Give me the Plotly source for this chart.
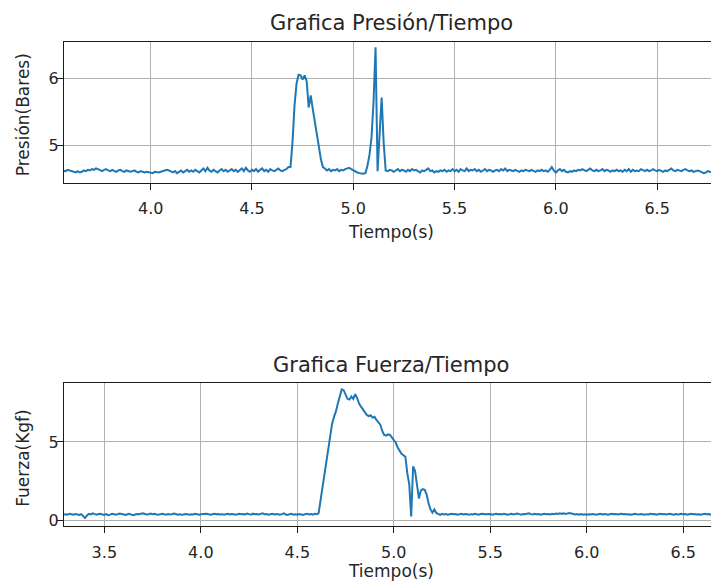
import numpy as np
import plotly.graph_objects as go

# ---- measured data (sampled every 10 ms) ----
presion_t0 = 3.56
presion_dt = 0.01
presion_bares = [
    4.63, 4.63, 4.62, 4.64,
    4.63, 4.62, 4.61, 4.60, 4.62, 4.60, 4.61, 4.63, 4.62, 4.64,
    4.63, 4.65, 4.64, 4.66, 4.65, 4.63, 4.62, 4.64, 4.65, 4.63,
    4.62, 4.64, 4.63, 4.61, 4.63, 4.64, 4.62, 4.61, 4.63, 4.62,
    4.61, 4.62, 4.63, 4.61, 4.60, 4.62, 4.61, 4.60, 4.61, 4.60,
    4.60, 4.59, 4.61, 4.60, 4.60, 4.61, 4.62, 4.63, 4.64, 4.63,
    4.62, 4.60, 4.62, 4.59, 4.61, 4.63, 4.60, 4.62, 4.64, 4.61,
    4.63, 4.61, 4.64, 4.62, 4.60, 4.63, 4.66, 4.62, 4.67, 4.63,
    4.61, 4.64, 4.62, 4.60, 4.63, 4.65, 4.62, 4.64, 4.61, 4.63,
    4.65, 4.62, 4.64, 4.61, 4.63, 4.66, 4.62, 4.67, 4.63, 4.61,
    4.64, 4.62, 4.65, 4.61, 4.64, 4.66, 4.62, 4.64, 4.61, 4.65,
    4.63, 4.62, 4.64, 4.66, 4.63, 4.62, 4.64, 4.65, 4.68, 4.68,
    5.05, 5.60, 5.93, 6.06, 6.05, 5.99, 6.05, 5.96, 5.57, 5.75,
    5.55, 5.38, 5.18, 4.99, 4.80, 4.68, 4.66, 4.63, 4.65, 4.62,
    4.64, 4.63, 4.65, 4.62, 4.64, 4.63, 4.65, 4.66, 4.67, 4.65,
    4.63, 4.62, 4.60, 4.59, 4.58, 4.58, 4.59, 4.70, 4.86, 5.12,
    5.65, 6.47, 4.62, 5.20, 5.72, 5.05, 4.63, 4.62, 4.64, 4.63,
    4.61, 4.63, 4.65, 4.62, 4.64, 4.63, 4.61, 4.64, 4.62, 4.65,
    4.63, 4.64, 4.62, 4.60, 4.63, 4.62, 4.64, 4.66, 4.62, 4.63,
    4.60, 4.62, 4.61, 4.63, 4.62, 4.64, 4.61, 4.63, 4.62, 4.65,
    4.62, 4.64, 4.61, 4.65, 4.63, 4.62, 4.66, 4.62, 4.64, 4.63,
    4.65, 4.62, 4.64, 4.61, 4.63, 4.65, 4.62, 4.64, 4.63, 4.61,
    4.63, 4.64, 4.62, 4.65, 4.63, 4.66, 4.62, 4.64, 4.63, 4.62,
    4.64, 4.62, 4.61, 4.63, 4.62, 4.64, 4.63, 4.62, 4.64, 4.63,
    4.61, 4.63, 4.62, 4.64, 4.62, 4.63, 4.61, 4.64, 4.68, 4.63,
    4.60, 4.63, 4.65, 4.62, 4.64, 4.61, 4.60, 4.62, 4.61, 4.63,
    4.62, 4.64, 4.63, 4.65, 4.63, 4.62, 4.64, 4.66, 4.63, 4.62,
    4.64, 4.62, 4.63, 4.65, 4.62, 4.64, 4.63, 4.61, 4.63, 4.62,
    4.64, 4.62, 4.63, 4.61, 4.64, 4.62, 4.65, 4.61, 4.64, 4.62,
    4.63, 4.62, 4.65, 4.63, 4.62, 4.64, 4.62, 4.63, 4.65, 4.63,
    4.62, 4.64, 4.63, 4.61, 4.63, 4.62, 4.64, 4.66, 4.63, 4.62,
    4.64, 4.63, 4.62, 4.64, 4.65, 4.63, 4.62, 4.63, 4.61, 4.62,
    4.63, 4.62, 4.60, 4.59, 4.60, 4.62, 4.61, 4.60, 4.59, 4.60, 4.61,
]

fuerza_t0 = 3.29
fuerza_dt = 0.01
fuerza_kgf = [
    0.38,
    0.40, 0.37, 0.42, 0.39, 0.36, 0.41, 0.38, 0.35, 0.40, 0.30,
    0.15, 0.32, 0.42, 0.38, 0.45, 0.40, 0.36, 0.41, 0.43, 0.38,
    0.35, 0.40, 0.33, 0.37, 0.42, 0.39, 0.36, 0.40, 0.44, 0.41,
    0.38, 0.35, 0.39, 0.42, 0.37, 0.34, 0.38, 0.41, 0.39, 0.43,
    0.46, 0.41, 0.38, 0.40, 0.44, 0.39, 0.42, 0.38, 0.36, 0.40,
    0.43, 0.39, 0.37, 0.41, 0.38, 0.40, 0.44, 0.41, 0.37, 0.39,
    0.36, 0.38, 0.41, 0.39, 0.37, 0.40, 0.38, 0.42, 0.39, 0.37,
    0.40, 0.41, 0.38, 0.42, 0.39, 0.37, 0.40, 0.43, 0.39, 0.41,
    0.38, 0.40, 0.36, 0.39, 0.42, 0.38, 0.41, 0.39, 0.37, 0.40,
    0.42, 0.39, 0.41, 0.38, 0.44, 0.40, 0.37, 0.43, 0.39, 0.41,
    0.38, 0.42, 0.46, 0.39, 0.41, 0.37, 0.40, 0.43, 0.38, 0.41,
    0.39, 0.36, 0.40, 0.45, 0.38, 0.35, 0.40, 0.42, 0.37, 0.39,
    0.36, 0.41, 0.38, 0.35, 0.40, 0.43, 0.38, 0.41, 0.37, 0.42,
    0.40, 0.45, 1.25, 2.05, 2.95, 3.80, 4.70, 5.50, 6.15, 6.60,
    6.95, 7.45, 7.95, 8.35, 8.30, 8.05, 7.75, 7.70, 7.90, 7.75,
    8.05, 7.80, 7.45, 7.25, 7.05, 6.85, 6.72, 6.65, 6.70, 6.55,
    6.60, 6.40, 6.25, 6.10, 5.70, 5.45, 5.40, 5.48, 5.45, 5.30,
    5.10, 4.95, 4.65, 4.40, 4.25, 4.15, 4.05, 3.00, 2.30, 0.25,
    3.45, 3.15, 2.20, 1.40, 1.90, 2.00, 1.95, 1.65, 1.10, 0.70,
    0.50, 0.70, 0.48, 0.40, 0.36, 0.42, 0.38, 0.41, 0.37, 0.40,
    0.43, 0.39, 0.41, 0.37, 0.40, 0.42, 0.38, 0.41, 0.39, 0.36,
    0.40, 0.38, 0.42, 0.39, 0.37, 0.41, 0.43, 0.39, 0.40, 0.38,
    0.41, 0.37, 0.40, 0.43, 0.39, 0.41, 0.38, 0.42, 0.40, 0.37,
    0.39, 0.42, 0.38, 0.41, 0.44, 0.40, 0.37, 0.41, 0.39, 0.42,
    0.45, 0.40, 0.38, 0.42, 0.39, 0.41, 0.37, 0.40, 0.43, 0.39,
    0.41, 0.38, 0.42, 0.40, 0.44, 0.41, 0.46, 0.42, 0.45, 0.41,
    0.43, 0.47, 0.44, 0.40, 0.38, 0.41, 0.37, 0.40, 0.36, 0.39,
    0.37, 0.40, 0.38, 0.41, 0.39, 0.36, 0.40, 0.42, 0.38, 0.41,
    0.39, 0.37, 0.40, 0.43, 0.39, 0.41, 0.38, 0.40, 0.42, 0.39,
    0.41, 0.38, 0.40, 0.37, 0.41, 0.43, 0.40, 0.38, 0.41, 0.39,
    0.36, 0.40, 0.38, 0.42, 0.39, 0.41, 0.37, 0.40, 0.43, 0.39,
    0.41, 0.38, 0.40, 0.42, 0.39, 0.37, 0.41, 0.38, 0.40, 0.42,
    0.39, 0.41, 0.37, 0.40, 0.43, 0.39, 0.41, 0.38, 0.40, 0.37,
    0.40, 0.42, 0.39, 0.41, 0.38, 0.33, 0.28, 0.30, 0.35,
]

titulos = ["Grafica Presión/Tiempo", "Grafica Fuerza/Tiempo"]
etiqueta_x = "Tiempo(s)"
etiquetas_y = ["Presión(Bares)", "Fuerza(Kgf)"]

t_presion = np.round(presion_t0 + presion_dt * np.arange(len(presion_bares)), 3)
t_fuerza = np.round(fuerza_t0 + fuerza_dt * np.arange(len(fuerza_kgf)), 3)

# ---- layout geometry (pixels) ----
W, H = 711, 588
LEFT = 64
FONT = "DejaVu Sans"
TXT = "#262626"
BLUE = "#1f77b4"


def ydom(top_px, bottom_px):
    return [1 - bottom_px / H, 1 - top_px / H]


def px_x(p):
    return (p - LEFT) / (W - LEFT)


def px_y(p):
    return 1 - p / H


fig = go.Figure()
fig.add_trace(go.Scatter(x=t_presion, y=presion_bares, mode="lines",
                         line=dict(color=BLUE, width=2), xaxis="x", yaxis="y",
                         showlegend=False))
fig.add_trace(go.Scatter(x=t_fuerza, y=fuerza_kgf, mode="lines",
                         line=dict(color=BLUE, width=2), xaxis="x2", yaxis="y2",
                         showlegend=False))

tick_font = dict(family=FONT, size=16, color=TXT)
common_x = dict(showgrid=True, gridcolor="#b0b0b0", gridwidth=1,
                showline=True, linecolor="#1a1a1a", linewidth=1.2, mirror=True,
                ticks="outside", ticklen=6, tickwidth=1, tickcolor="#1a1a1a",
                tickfont=tick_font, zeroline=False, dtick=0.5, tickformat=".1f",
                ticklabelstandoff=5)
common_y = dict(showgrid=True, gridcolor="#b0b0b0", gridwidth=1,
                showline=True, linecolor="#1a1a1a", linewidth=1.2, mirror=False,
                ticks="outside", ticklen=6, tickwidth=1, tickcolor="#1a1a1a",
                tickfont=tick_font, zeroline=False, ticklabelstandoff=-5)

fig.update_layout(
    width=W, height=H,
    margin=dict(l=LEFT, r=0, t=0, b=0),
    paper_bgcolor="white", plot_bgcolor="white",
    font=dict(family=FONT, color=TXT),
    xaxis=dict(common_x, domain=[0, 1], range=[3.572, 6.766], anchor="y"),
    yaxis=dict(common_y, domain=ydom(42.3, 184.3), range=[4.442, 6.549],
               tickvals=[5, 6], anchor="x"),
    xaxis2=dict(common_x, domain=[0, 1], range=[3.291, 6.6435], anchor="y2"),
    yaxis2=dict(common_y, domain=ydom(386, 530), range=[-0.38, 8.734],
                tickvals=[0, 5], anchor="x2"),
)

ann = []
for titulo, ypx in zip(titulos, [23, 368]):
    ann.append(dict(text=titulo, x=px_x(391), y=px_y(ypx), xref="paper", yref="paper",
                    xanchor="center", yanchor="middle", showarrow=False,
                    font=dict(family=FONT, size=21, color=TXT)))
for ypx in [234, 575]:
    ann.append(dict(text=etiqueta_x, x=px_x(391), y=px_y(ypx), xref="paper", yref="paper",
                    xanchor="center", yanchor="middle", showarrow=False,
                    font=dict(family=FONT, size=17, color=TXT)))
for lab, ypx in zip(etiquetas_y, [116, 461]):
    ann.append(dict(text=lab, x=px_x(23), y=px_y(ypx), xref="paper", yref="paper",
                    xanchor="center", yanchor="middle", textangle=-90, showarrow=False,
                    font=dict(family=FONT, size=17, color=TXT)))
fig.update_layout(annotations=ann)

fig.write_html("out.html", config={"displayModeBar": False})
